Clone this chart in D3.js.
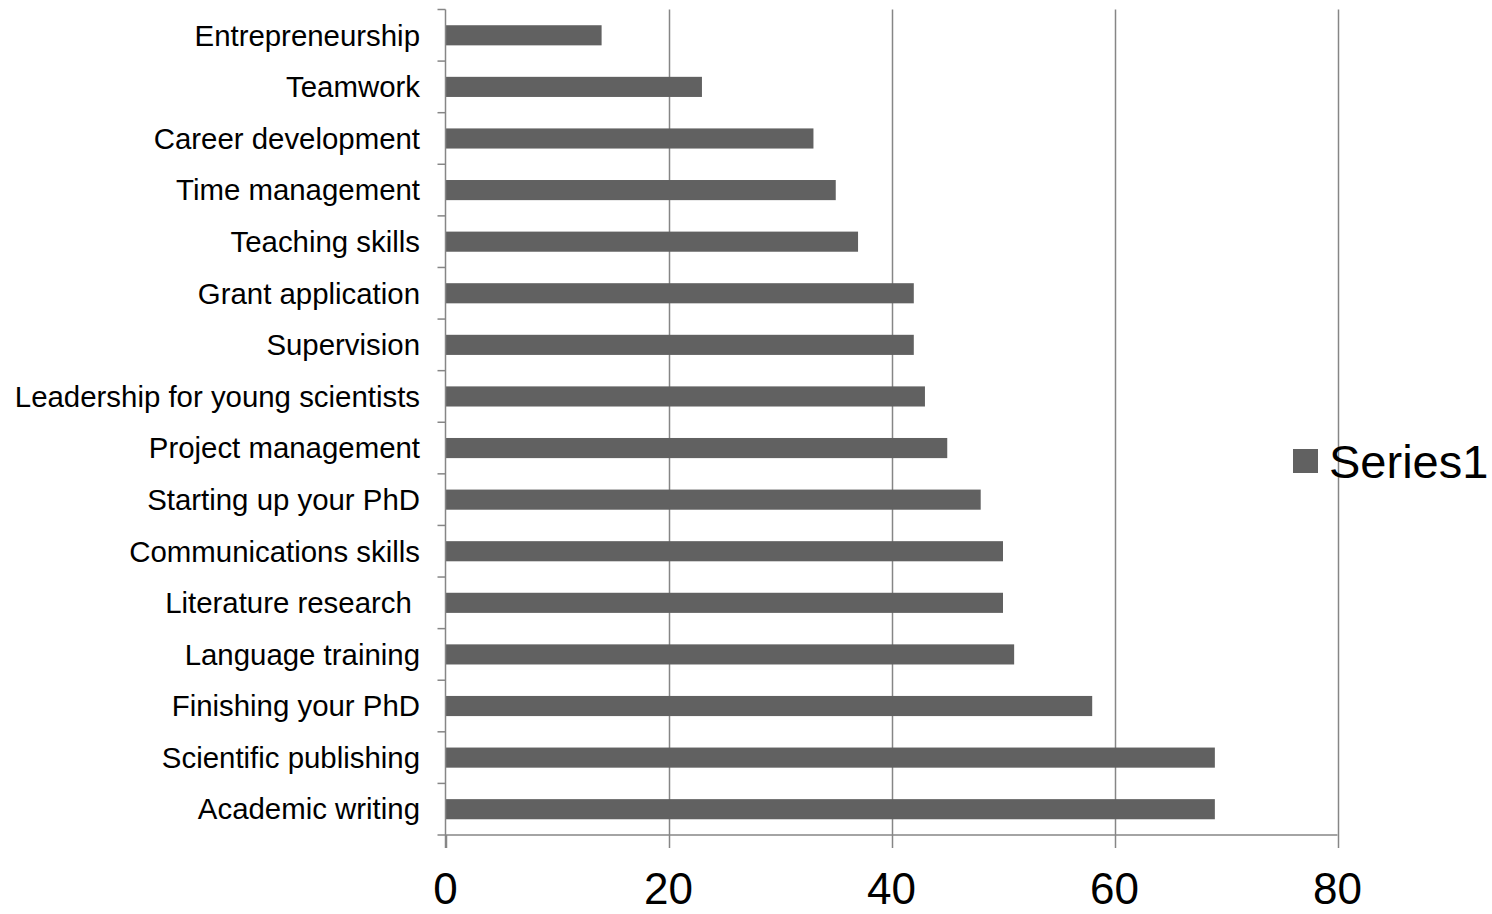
<!DOCTYPE html>
<html>
<head>
<meta charset="utf-8">
<script src="https://cdn.jsdelivr.net/npm/d3@7"></script>
<style>
  html, body { margin: 0; padding: 0; background: #ffffff; }
  svg { display: block; font-family: "Liberation Sans", Arial, sans-serif; }
</style>
</head>
<body>
<svg id="chart" width="1492" height="914"></svg>
<script>
// Training topics, listed top to bottom
const categories = [
  "Entrepreneurship",
  "Teamwork",
  "Career development",
  "Time management",
  "Teaching skills",
  "Grant application",
  "Supervision",
  "Leadership for young scientists",
  "Project management",
  "Starting up your PhD",
  "Communications skills",
  "Literature research ",
  "Language training",
  "Finishing your PhD",
  "Scientific publishing",
  "Academic writing"
];
const series1 = [14, 23, 33, 35, 37, 42, 42, 43, 45, 48, 50, 50, 51, 58, 69, 69];
const xTicks = [0, 20, 40, 60, 80];
const seriesName = "Series1";

const svg = d3.select("#chart");
const plot = { left: 445.5, right: 1337.5, top: 9.5, bottom: 835 };

const x = d3.scaleLinear().domain([0, 80]).range([plot.left, plot.right]);
const y = d3.scaleBand().domain(categories).range([plot.top, plot.bottom]).paddingInner(0.61).paddingOuter(0.305);
const yBands = d3.scaleBand().domain(categories).range([plot.top, plot.bottom]);

const gridColor = "#868686";
const barColor = "#616161";

// Vertical gridlines
svg.append("g")
  .selectAll("line")
  .data(xTicks.filter(d => d > 0))
  .join("line")
  .attr("x1", d => Math.round(x(d)) + 0.5)
  .attr("x2", d => Math.round(x(d)) + 0.5)
  .attr("y1", plot.top)
  .attr("y2", plot.bottom)
  .attr("stroke", gridColor)
  .attr("stroke-width", 1.5);

// Bars
svg.append("g")
  .selectAll("rect")
  .data(categories)
  .join("rect")
  .attr("x", x(0))
  .attr("y", d => y(d))
  .attr("width", (d, i) => x(series1[i]) - x(0))
  .attr("height", y.bandwidth())
  .attr("fill", barColor);

// Category axis: line plus tick marks at band boundaries
const yAxis = svg.append("g");
yAxis.append("line")
  .attr("x1", x(0)).attr("x2", x(0))
  .attr("y1", plot.top).attr("y2", plot.bottom + 13)
  .attr("stroke", gridColor).attr("stroke-width", 1.5);
const boundaries = categories.map(d => yBands(d)).concat([plot.bottom]);
yAxis.selectAll("line.tick")
  .data(boundaries)
  .join("line")
  .attr("class", "tick")
  .attr("x1", x(0) - 8).attr("x2", x(0))
  .attr("y1", d => d).attr("y2", d => d)
  .attr("stroke", gridColor).attr("stroke-width", 1.5);
yAxis.selectAll("text")
  .data(categories)
  .join("text")
  .attr("x", 420)
  .attr("y", d => yBands(d) + yBands.bandwidth() / 2)
  .attr("dy", "0.35em")
  .attr("text-anchor", "end")
  .style("white-space", "pre")
  .attr("font-size", 29.4)
  .attr("fill", "#000")
  .text(d => d);

// Value axis
const xAxis = svg.append("g");
xAxis.append("line")
  .attr("x1", x(0)).attr("x2", x(80))
  .attr("y1", plot.bottom).attr("y2", plot.bottom)
  .attr("stroke", gridColor).attr("stroke-width", 1.5);
xAxis.selectAll("line.tick")
  .data(xTicks)
  .join("line")
  .attr("class", "tick")
  .attr("x1", d => Math.round(x(d)) + 0.5).attr("x2", d => Math.round(x(d)) + 0.5)
  .attr("y1", plot.bottom).attr("y2", plot.bottom + 13)
  .attr("stroke", gridColor).attr("stroke-width", 1.5);
xAxis.selectAll("text")
  .data(xTicks)
  .join("text")
  .attr("x", d => x(d))
  .attr("y", 904)
  .attr("text-anchor", "middle")
  .attr("font-size", 44)
  .attr("fill", "#000")
  .text(d => d);

// Legend
const legend = svg.append("g").attr("transform", "translate(1293,449)");
legend.append("rect")
  .attr("width", 25).attr("height", 24)
  .attr("fill", barColor);
legend.append("text")
  .attr("x", 36)
  .attr("y", 12)
  .attr("dy", "0.36em")
  .attr("font-size", 47)
  .attr("fill", "#000")
  .text(seriesName);
</script>
</body>
</html>
